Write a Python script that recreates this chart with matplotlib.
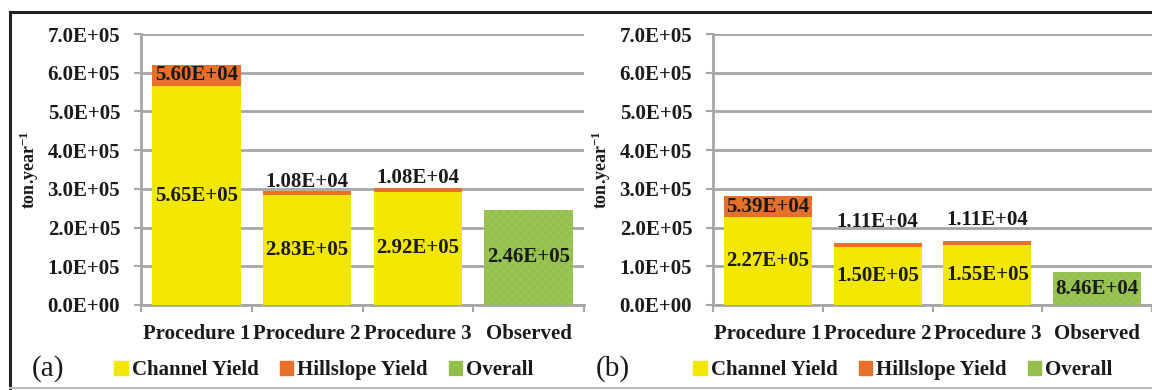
import matplotlib.pyplot as plt
import numpy as np
from matplotlib.patches import Patch
from matplotlib.lines import Line2D

categories = ['Procedure 1', 'Procedure 2', 'Procedure 3', 'Observed']

# panel (a)
channel_a = [5.65e5, 2.83e5, 2.92e5]
hillslope_a = [5.60e4, 1.08e4, 1.08e4]
observed_a = 2.46e5

# panel (b)
channel_b = [2.27e5, 1.50e5, 1.55e5]
hillslope_b = [5.39e4, 1.11e4, 1.11e4]
observed_b = 8.46e4

yticks = np.arange(0, 7.01e5, 1e5)

YELLOW = '#F2E700'
ORANGE = '#E8702A'
GREEN = '#93BF4A'
GRID = '#A6A6A6'
TXT = '#1A1A1A'
FONT = 'Liberation Serif'

plt.rcParams['font.family'] = FONT
plt.rcParams['font.weight'] = 'bold'
plt.rcParams['mathtext.fontset'] = 'custom'
plt.rcParams['mathtext.rm'] = FONT + ':bold'
plt.rcParams['mathtext.bf'] = FONT + ':bold'
plt.rcParams['mathtext.default'] = 'bf'


def sci(v):
    return '%.2E' % v


def draw_panel(ax, channel, hillslope, observed, small_offset):
    x = np.arange(len(categories))
    w = 0.8
    ax.bar(x[:3], channel, width=w, color=YELLOW, zorder=3)
    ax.bar(x[:3], hillslope, width=w, bottom=channel, color=ORANGE, zorder=3)
    ax.bar(x[3], observed, width=w, color=GREEN, zorder=3,
           hatch='xxxx', edgecolor='#9CC65A', linewidth=0)

    for i in range(3):
        ax.text(x[i], channel[i] / 2, sci(channel[i]), ha='center', va='center',
                fontsize=15, color=TXT, zorder=4)
        if hillslope[i] > 3e4:
            ax.text(x[i], channel[i] + hillslope[i] / 2, sci(hillslope[i]),
                    ha='center', va='center', fontsize=15, color=TXT, zorder=4)
        else:
            ax.annotate(sci(hillslope[i]), (x[i], channel[i] + hillslope[i]),
                        xytext=(0, small_offset), textcoords='offset points',
                        ha='center', va='center', fontsize=15, color=TXT, zorder=4)
    ax.text(x[3], observed / 2, sci(observed), ha='center', va='center',
            fontsize=15, color=TXT, zorder=4)

    ax.set_xlim(-0.5, 3.5)
    ax.set_ylim(0, 7e5)
    ax.set_yticks(yticks)
    ax.set_yticklabels(['%.1E' % v for v in yticks])
    ax.set_xticks(x)
    ax.set_xticklabels(categories)
    ax.set_xticks(np.arange(-0.5, 3.6, 1), minor=True)
    ax.tick_params(axis='x', which='major', length=0, pad=14, labelsize=15,
                   labelcolor=TXT)
    ax.tick_params(axis='x', which='minor', length=5, width=1.5, color=GRID)
    ax.tick_params(axis='y', length=5, width=1.5, color=GRID, pad=10,
                   labelsize=15, labelcolor=TXT)
    ax.grid(axis='y', color=GRID, linewidth=2, zorder=0)
    for s in ['top', 'right']:
        ax.spines[s].set_visible(False)
    for s in ['left', 'bottom']:
        ax.spines[s].set_color(GRID)
        ax.spines[s].set_linewidth(2)
    ax.set_ylabel('ton.year$^{-1}$', fontsize=13, fontweight='bold',
                  color=TXT, labelpad=5)


fig = plt.figure(figsize=(11.52, 3.9), dpi=100)
ax_a = fig.add_axes([141 / 1152, 1 - 305 / 390, 443 / 1152, 271 / 390])
ax_b = fig.add_axes([713 / 1152, 1 - 305 / 390, 439 / 1152, 271 / 390])

draw_panel(ax_a, channel_a, hillslope_a, observed_a, 7)
draw_panel(ax_b, channel_b, hillslope_b, observed_b, 15)

handles = [Patch(color=YELLOW, label='Channel Yield'),
           Patch(color=ORANGE, label='Hillslope Yield'),
           Patch(color=GREEN, label='Overall')]
for cx, tag, tx in [(324, '(a)', 48), (903, '(b)', 613)]:
    fig.legend(handles=handles, loc='center', bbox_to_anchor=(cx / 1152, 1 - 370 / 390),
               ncol=3, frameon=False, fontsize=15, handlelength=0.65,
               handleheight=0.65, handletextpad=0.2, columnspacing=1.0,
               labelcolor=TXT)
    fig.text(tx / 1152, 1 - 369 / 390, tag, ha='center', va='center',
             fontsize=21, fontweight='normal', color=TXT)

# outer frame
fig.add_artist(Line2D([10 / 1152, 1], [1 - 12 / 390] * 2, color='#222222', lw=2.2))
fig.add_artist(Line2D([10 / 1152] * 2, [1 - 12 / 390, 1 - 388 / 390], color='#222222', lw=2.2))
fig.add_artist(Line2D([10 / 1152, 1], [1 - 388 / 390] * 2, color='#BBBBBB', lw=1.5))

fig.savefig('out.png', dpi=100)
